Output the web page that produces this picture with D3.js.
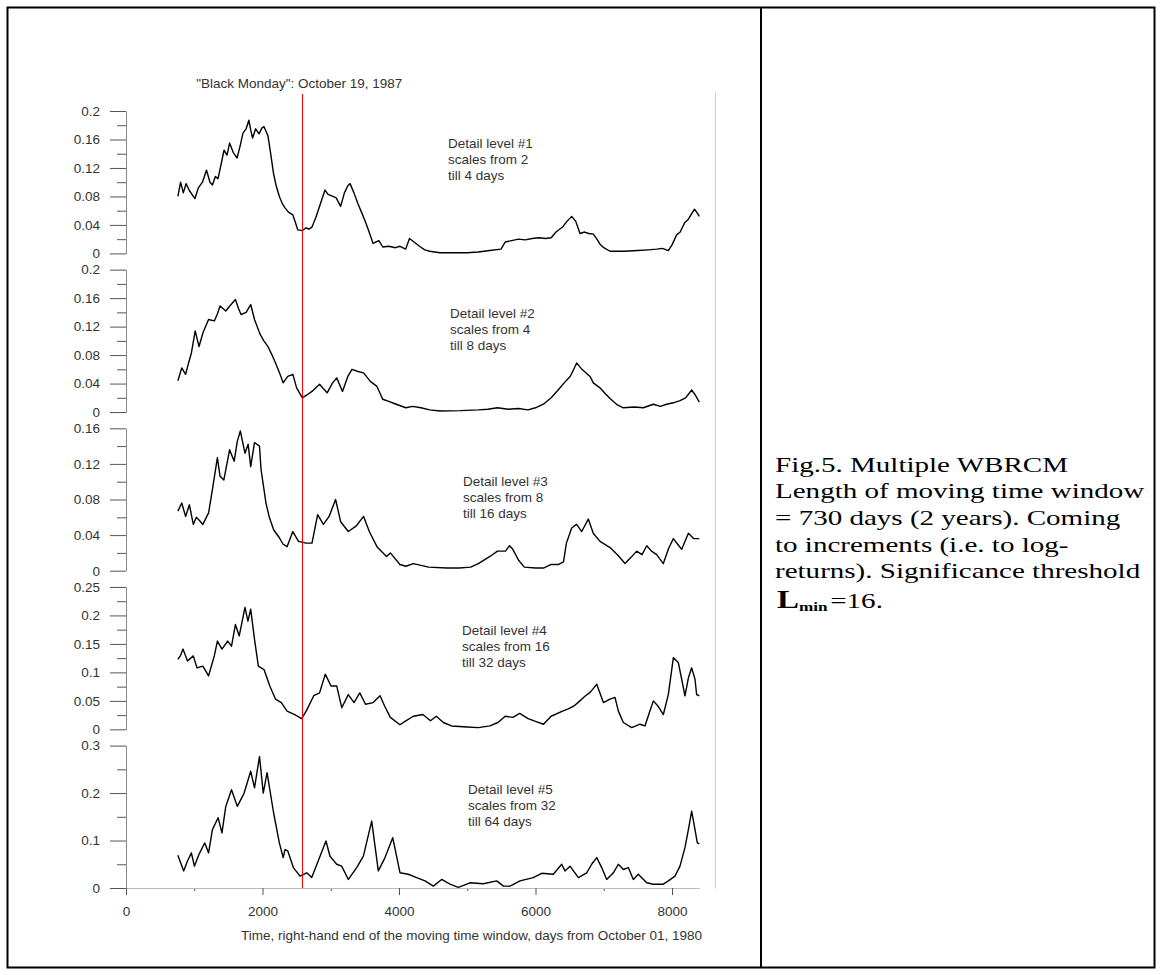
<!DOCTYPE html>
<html>
<head>
<meta charset="utf-8">
<script src="https://cdn.jsdelivr.net/npm/d3@7.9.0/dist/d3.min.js"></script>
<style>
  body { margin: 0; background: #fff; }
  svg { display: block; }
  .axis text { font-family: "Liberation Sans", Arial, sans-serif; font-size: 13.5px; fill: #333; }
  .note { font-family: "Liberation Sans", Arial, sans-serif; font-size: 13.5px; fill: #333; }
  .caption { font-family: "Liberation Serif", "Times New Roman", serif; font-size: 22px; fill: #000; }
</style>
</head>
<body>
<div id="chart"></div>
<script>
// values: [day, value]
const level1 = [[760,0.080],[800,0.100],[840,0.085],[880,0.098],[930,0.088],[1010,0.077],[1060,0.092],[1120,0.100],[1180,0.117],[1230,0.100],[1266,0.096],[1310,0.108],[1348,0.105],[1400,0.128],[1436,0.145],[1480,0.138],[1518,0.155],[1570,0.142],[1627,0.134],[1670,0.150],[1714,0.169],[1760,0.175],[1800,0.187],[1830,0.172],[1855,0.162],[1900,0.175],[1950,0.168],[1990,0.176],[2022,0.178],[2050,0.172],[2080,0.165],[2120,0.140],[2160,0.113],[2200,0.095],[2247,0.080],[2290,0.070],[2330,0.064],[2380,0.058],[2445,0.054],[2480,0.044],[2516,0.033],[2580,0.032],[2640,0.036],[2680,0.034],[2725,0.037],[2780,0.050],[2850,0.070],[2916,0.089],[2960,0.083],[3033,0.080],[3080,0.078],[3145,0.066],[3200,0.085],[3250,0.095],[3283,0.098],[3340,0.085],[3397,0.070],[3450,0.058],[3509,0.044],[3570,0.028],[3620,0.014],[3705,0.018],[3762,0.009],[3850,0.010],[3950,0.008],[4015,0.010],[4098,0.006],[4154,0.021],[4220,0.016],[4300,0.010],[4378,0.005],[4450,0.003],[4600,0.001],[4800,0.001],[5000,0.001],[5160,0.002],[5330,0.004],[5495,0.006],[5556,0.016],[5650,0.018],[5750,0.020],[5850,0.019],[5950,0.021],[6050,0.022],[6150,0.021],[6230,0.022],[6300,0.030],[6396,0.037],[6460,0.045],[6530,0.052],[6590,0.045],[6652,0.028],[6720,0.030],[6780,0.028],[6847,0.027],[6900,0.020],[6945,0.013],[7000,0.008],[7092,0.003],[7300,0.003],[7500,0.004],[7650,0.005],[7775,0.006],[7860,0.007],[7946,0.004],[8000,0.012],[8068,0.026],[8120,0.030],[8185,0.043],[8240,0.048],[8288,0.056],[8330,0.062],[8361,0.058],[8400,0.052]];
const level2 = [[760,0.044],[817,0.062],[873,0.053],[920,0.070],[958,0.083],[1014,0.114],[1070,0.092],[1130,0.112],[1210,0.130],[1294,0.128],[1340,0.138],[1378,0.149],[1462,0.142],[1530,0.150],[1603,0.158],[1650,0.145],[1686,0.137],[1760,0.140],[1827,0.151],[1883,0.130],[1966,0.109],[2020,0.100],[2080,0.092],[2140,0.080],[2191,0.069],[2250,0.055],[2302,0.041],[2370,0.050],[2445,0.053],[2500,0.034],[2584,0.020],[2650,0.024],[2725,0.029],[2836,0.039],[2890,0.033],[2948,0.027],[3020,0.040],[3088,0.048],[3172,0.029],[3250,0.050],[3311,0.060],[3400,0.057],[3481,0.055],[3580,0.043],[3677,0.036],[3761,0.018],[3850,0.015],[3930,0.012],[4098,0.006],[4200,0.008],[4322,0.006],[4450,0.003],[4600,0.0015],[4900,0.002],[5163,0.003],[5300,0.004],[5443,0.006],[5600,0.004],[5750,0.005],[5890,0.003],[6000,0.006],[6116,0.011],[6230,0.020],[6341,0.032],[6430,0.042],[6508,0.050],[6560,0.060],[6603,0.069],[6680,0.060],[6750,0.054],[6800,0.050],[6847,0.041],[6945,0.034],[7020,0.026],[7092,0.019],[7200,0.010],[7287,0.006],[7450,0.007],[7580,0.006],[7727,0.011],[7830,0.008],[7922,0.011],[8020,0.013],[8117,0.016],[8200,0.020],[8288,0.031],[8340,0.024],[8400,0.014]];
const level3 = [[760,0.067],[817,0.076],[873,0.061],[929,0.074],[986,0.052],[1030,0.060],[1070,0.057],[1126,0.052],[1210,0.065],[1266,0.091],[1339,0.127],[1378,0.106],[1434,0.102],[1518,0.136],[1585,0.123],[1630,0.145],[1675,0.157],[1743,0.132],[1790,0.142],[1827,0.117],[1883,0.144],[1956,0.140],[1978,0.114],[2051,0.076],[2100,0.060],[2163,0.046],[2247,0.037],[2300,0.030],[2360,0.027],[2444,0.044],[2528,0.033],[2640,0.031],[2725,0.031],[2808,0.063],[2892,0.052],[2976,0.061],[3071,0.080],[3145,0.055],[3257,0.044],[3370,0.050],[3481,0.061],[3565,0.044],[3677,0.027],[3817,0.016],[3873,0.020],[4014,0.007],[4100,0.005],[4210,0.008],[4434,0.004],[4700,0.003],[4882,0.003],[5050,0.004],[5163,0.008],[5332,0.016],[5443,0.022],[5560,0.022],[5620,0.028],[5668,0.024],[5750,0.012],[5836,0.004],[6000,0.003],[6117,0.003],[6229,0.007],[6341,0.007],[6410,0.010],[6453,0.031],[6530,0.048],[6564,0.050],[6603,0.052],[6677,0.044],[6774,0.058],[6846,0.042],[6945,0.033],[7092,0.026],[7200,0.018],[7312,0.008],[7400,0.015],[7483,0.022],[7560,0.018],[7630,0.028],[7700,0.022],[7775,0.018],[7873,0.008],[7950,0.025],[8020,0.036],[8080,0.030],[8142,0.024],[8240,0.042],[8320,0.036],[8400,0.036]];
const level4 = [[760,0.123],[800,0.130],[835,0.141],[901,0.120],[986,0.129],[1040,0.108],[1126,0.111],[1210,0.094],[1294,0.129],[1339,0.155],[1406,0.141],[1490,0.155],[1546,0.146],[1603,0.184],[1659,0.164],[1743,0.214],[1787,0.190],[1827,0.211],[1883,0.158],[1939,0.111],[2022,0.105],[2107,0.076],[2191,0.053],[2276,0.047],[2360,0.032],[2472,0.026],[2573,0.019],[2640,0.032],[2751,0.059],[2836,0.064],[2920,0.097],[3004,0.076],[3088,0.076],[3161,0.038],[3257,0.061],[3341,0.047],[3425,0.064],[3509,0.044],[3621,0.047],[3722,0.059],[3789,0.041],[3873,0.021],[4014,0.008],[4100,0.015],[4210,0.023],[4349,0.026],[4461,0.015],[4546,0.023],[4650,0.012],[4770,0.006],[5000,0.004],[5163,0.003],[5332,0.006],[5450,0.012],[5556,0.023],[5668,0.021],[5768,0.028],[5892,0.019],[6000,0.014],[6117,0.009],[6229,0.023],[6396,0.032],[6480,0.036],[6564,0.041],[6650,0.050],[6733,0.059],[6800,0.065],[6897,0.079],[6995,0.047],[7092,0.053],[7165,0.056],[7214,0.032],[7287,0.012],[7409,0.003],[7531,0.009],[7604,0.006],[7670,0.030],[7727,0.050],[7800,0.040],[7873,0.026],[7946,0.061],[8020,0.126],[8093,0.117],[8190,0.059],[8240,0.090],[8288,0.108],[8337,0.088],[8361,0.061],[8400,0.059]];
const level5 = [[760,0.069],[845,0.036],[901,0.057],[958,0.074],[1002,0.046],[1070,0.071],[1154,0.095],[1210,0.074],[1266,0.123],[1350,0.148],[1406,0.116],[1462,0.172],[1546,0.207],[1631,0.172],[1731,0.200],[1827,0.246],[1883,0.211],[1956,0.277],[2011,0.200],[2067,0.243],[2163,0.158],[2247,0.095],[2303,0.064],[2330,0.081],[2371,0.078],[2452,0.043],[2550,0.025],[2648,0.032],[2721,0.022],[2843,0.067],[2930,0.099],[2989,0.067],[3087,0.050],[3160,0.046],[3258,0.018],[3380,0.043],[3478,0.067],[3600,0.141],[3697,0.036],[3795,0.064],[3908,0.106],[4015,0.032],[4136,0.029],[4259,0.022],[4381,0.015],[4503,0.004],[4625,0.018],[4747,0.008],[4869,0.0015],[5040,0.011],[5236,0.009],[5432,0.015],[5530,0.004],[5627,0.004],[5773,0.015],[5968,0.022],[6090,0.031],[6261,0.029],[6384,0.050],[6432,0.036],[6506,0.046],[6628,0.022],[6750,0.032],[6823,0.050],[6897,0.064],[6970,0.043],[7043,0.018],[7141,0.032],[7214,0.050],[7287,0.039],[7360,0.043],[7433,0.018],[7506,0.029],[7629,0.011],[7727,0.008],[7873,0.008],[7946,0.015],[8044,0.025],[8117,0.046],[8190,0.085],[8240,0.123],[8288,0.162],[8337,0.123],[8371,0.095],[8400,0.093]];

const seriesList = [level1, level2, level3, level4, level5];
const yMax = [0.2, 0.2, 0.16, 0.25, 0.3];
const yTicks = [
  [0, 0.04, 0.08, 0.12, 0.16, 0.2],
  [0, 0.04, 0.08, 0.12, 0.16, 0.2],
  [0, 0.04, 0.08, 0.12, 0.16],
  [0, 0.05, 0.1, 0.15, 0.2, 0.25],
  [0, 0.1, 0.2, 0.3],
];
const notes = [
  ['Detail level #1', 'scales from 2', 'till 4 days'],
  ['Detail level #2', 'scales from 4', 'till 8 days'],
  ['Detail level #3', 'scales from 8', 'till 16 days'],
  ['Detail level #4', 'scales from 16', 'till 32 days'],
  ['Detail level #5', 'scales from 32', 'till 64 days'],
];
// where each note starts: [day, value of first line]
const notePos = [[4718, 0.154], [4747, 0.139], [4938, 0.100], [4923, 0.173], [5011, 0.207]];
const xTicks = [0, 2000, 4000, 6000, 8000];
const xMinor = [1000, 3000, 5000, 7000];
const blackMonday = 2574; // days from October 01, 1980
const captionLines = [
  'Fig.5. Multiple WBRCM',
  'Length of moving time window',
  '= 730 days (2 years). Coming',
  'to increments (i.e. to log-',
  'returns). Significance threshold',
];

const width = 1162;
const height = 975;
const panelTop = 111;
const panelStep = 158.65;
const panelH = 142.4;

const svg = d3.select('#chart').append('svg')
  .attr('width', width)
  .attr('height', height);

const xScale = d3.scaleLinear().domain([0, 8400]).range([126, 699.3]);

// table frame
svg.append('rect')
  .attr('x', 7.5).attr('y', 7.5)
  .attr('width', 1147).attr('height', 960)
  .attr('fill', 'none').attr('stroke', '#000').attr('stroke-width', 2);
svg.append('line')
  .attr('x1', 761).attr('x2', 761).attr('y1', 7).attr('y2', 968)
  .attr('stroke', '#000').attr('stroke-width', 2);

// right edge of the plot
svg.append('line')
  .attr('x1', 715.5).attr('x2', 715.5).attr('y1', 92).attr('y2', 888.5)
  .attr('stroke', '#d0d0d0');

const fmt = (d) => (d === 0 ? '0' : String(+d.toFixed(3)));
const line = d3.line().x((d) => xScale(d[0]));

seriesList.forEach((series, i) => {
  const top = panelTop + i * panelStep;
  const y = d3.scaleLinear().domain([0, yMax[i]]).range([top + panelH, top]);
  const step = yTicks[i][1];
  const minor = yTicks[i].slice(1).map((t) => t - step / 2);

  const g = svg.append('g').attr('class', 'axis');

  // minor ticks
  g.append('g')
    .attr('transform', 'translate(126,0)')
    .call(d3.axisLeft(y).tickValues(minor).tickSize(9).tickSizeOuter(0).tickFormat(''))
    .call((s) => s.select('.domain').remove())
    .call((s) => s.selectAll('line').attr('stroke', '#555'));

  // major ticks and labels
  g.append('g')
    .attr('transform', 'translate(126,0)')
    .call(d3.axisLeft(y).tickValues(yTicks[i]).tickSize(16).tickSizeOuter(0).tickPadding(10).tickFormat(fmt))
    .call((s) => s.select('.domain').attr('stroke', '#888'))
    .call((s) => s.selectAll('.tick line').attr('stroke', '#555'))
    .call((s) => s.selectAll('text').attr('font-family', null).attr('font-size', null));

  svg.append('path')
    .datum(series)
    .attr('fill', 'none')
    .attr('stroke', '#000')
    .attr('stroke-width', 1.4)
    .attr('stroke-linejoin', 'round')
    .attr('d', line.y((d) => y(d[1])));

  const note = svg.append('text')
    .attr('class', 'note')
    .attr('x', xScale(notePos[i][0]))
    .attr('y', y(notePos[i][1]) + 4.5);
  notes[i].forEach((t, k) => {
    note.append('tspan')
      .attr('x', xScale(notePos[i][0]))
      .attr('dy', k === 0 ? 0 : 16)
      .text(t);
  });
});

// x axis
const xBase = panelTop + 4 * panelStep + panelH;
const xg = svg.append('g').attr('class', 'axis').attr('transform', `translate(0,${xBase})`);
xg.call(d3.axisBottom(xScale).tickValues(xMinor).tickSize(3).tickSizeOuter(0).tickFormat(''))
  .call((s) => s.select('.domain').remove())
  .call((s) => s.selectAll('line').attr('stroke', '#555'));
const xg2 = svg.append('g').attr('class', 'axis').attr('transform', `translate(0,${xBase})`);
xg2.call(d3.axisBottom(xScale).tickValues(xTicks).tickSize(7).tickSizeOuter(0).tickPadding(11).tickFormat(d3.format('d')))
  .call((s) => s.select('.domain').attr('stroke', '#bbb'))
  .call((s) => s.selectAll('.tick line').attr('stroke', '#555'))
  .call((s) => s.selectAll('text').attr('font-family', null).attr('font-size', null));

svg.append('text')
  .attr('class', 'note')
  .attr('x', 471.5)
  .attr('y', 940)
  .attr('text-anchor', 'middle')
  .text('Time, right-hand end of the moving time window, days from October 01, 1980');

// Black Monday marker
const bmX = Math.round(xScale(blackMonday)) + 0.5;
svg.append('line')
  .attr('x1', bmX).attr('x2', bmX)
  .attr('y1', 94).attr('y2', xBase)
  .attr('stroke', '#ff0000').attr('stroke-width', 1);
svg.append('text')
  .attr('class', 'note')
  .attr('x', xScale(blackMonday) - 2.4)
  .attr('y', 87.5)
  .attr('text-anchor', 'middle')
  .text('"Black Monday": October 19, 1987');

// caption in the right cell
const cap = svg.append('g').attr('transform', 'translate(775,0) scale(1.32,1)');
captionLines.forEach((t, k) => {
  cap.append('text').attr('class', 'caption')
    .attr('x', 0).attr('y', 471.7 + k * 26.65)
    .text(t);
});
const lmin = cap.append('text').attr('class', 'caption').attr('x', 1.5).attr('y', 608);
lmin.append('tspan').attr('font-weight', 'bold').attr('font-size', '25px').text('L');
lmin.append('tspan').attr('font-weight', 'bold').attr('font-size', '13px').attr('dy', 3).text('min');
lmin.append('tspan').attr('dy', -3).attr('dx', 2).text('=16.');
</script>
</body>
</html>
